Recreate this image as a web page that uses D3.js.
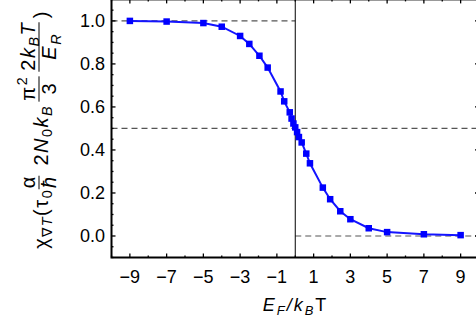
<!DOCTYPE html>
<html>
<head>
<meta charset="utf-8">
<script src="https://cdn.jsdelivr.net/npm/d3@7"></script>
<style>
	body { margin: 0; background: white; }
	text { font-family: 'Liberation Sans', Arial, sans-serif; fill: black; }
</style>
</head>
<body>
<svg id="chart" width="476" height="326"></svg>
<script>
// values
const energies = [-9, -7, -5, -4, -3, -2.5, -1.95, -1.5, -0.8, -0.6, -0.3, -0.2, -0.1, 0,
	0.1, 0.2, 0.35, 0.6, 0.8, 1.5, 1.9, 2.45, 3, 4, 5, 7, 9];
const chiValues = [1.0, 0.997, 0.99, 0.973, 0.93, 0.893, 0.838, 0.783, 0.672, 0.626, 0.575, 0.546, 0.523, 0.505,
	0.483, 0.46, 0.435, 0.383, 0.338, 0.225, 0.171, 0.115, 0.078, 0.036, 0.018, 0.008, 0.004];
const xTickValues = [-9, -7, -5, -3, -1, 1, 3, 5, 7, 9];
const xMinorTicks = [-10, -8, -6, -4, -2, 0, 2, 4, 6, 8, 10];
const yTickValues = [0, 0.2, 0.4, 0.6, 0.8, 1.0];
const yMinorTicks = d3.range(-0.1, 1.1001, 0.05).filter((v) => Math.abs(Math.round(v * 5) - v * 5) > 1e-6);
// reference lines: [y, xFrom, xTo]
const guideLines = [[1, -10, 0], [0.5, -10, 10], [0, 0, 10]];

const svg = d3.select('#chart');
const plotLeft = 111.5;
const plotRight = 479;
const plotTop = -0.6;
const plotBottom = 257.5;
const x = d3.scaleLinear().domain([-10, 10]).range([plotLeft, plotRight]);
const y = d3.scaleLinear().domain([-0.1, 1.1]).range([plotBottom, plotTop]);
const fmt = (v) => (v < 0 ? '\u2212' : '') + Math.abs(v);

// guides
guideLines.forEach(([v, a, b]) => {
	svg.append('line')
		.attr('x1', x(a)).attr('x2', x(b))
		.attr('y1', y(v)).attr('y2', y(v))
		.attr('stroke', '#555')
		.attr('stroke-width', 1.2)
		.attr('stroke-dasharray', '6,4');
});
svg.append('line')
	.attr('x1', x(0)).attr('x2', x(0))
	.attr('y1', plotTop).attr('y2', plotBottom)
	.attr('stroke', 'black')
	.attr('stroke-width', 1);

// ticks, all pointing inwards
const ticks = svg.append('g').attr('stroke', 'black').attr('stroke-width', 1.3);
xTickValues.concat(xMinorTicks).forEach((v) => {
	const len = xTickValues.includes(v) ? 4 : 2;
	ticks.append('line').attr('x1', x(v)).attr('x2', x(v)).attr('y1', plotBottom).attr('y2', plotBottom - len);
	ticks.append('line').attr('x1', x(v)).attr('x2', x(v)).attr('y1', plotTop).attr('y2', plotTop + len);
});
yTickValues.concat(yMinorTicks).forEach((v) => {
	const len = yTickValues.includes(v) ? 4 : 2;
	ticks.append('line').attr('y1', y(v)).attr('y2', y(v)).attr('x1', plotLeft).attr('x2', plotLeft + len);
	ticks.append('line').attr('y1', y(v)).attr('y2', y(v)).attr('x1', plotRight).attr('x2', plotRight - len);
});

// frame
svg.append('rect')
	.attr('x', plotLeft).attr('y', plotTop)
	.attr('width', plotRight - plotLeft).attr('height', plotBottom - plotTop)
	.attr('fill', 'none')
	.attr('stroke', 'black')
	.attr('stroke-width', 2);

// tick labels
svg.append('g').selectAll('text').data(xTickValues).enter().append('text')
	.attr('x', (d) => x(d))
	.attr('y', 283)
	.attr('text-anchor', 'middle')
	.attr('font-size', 18)
	.text(fmt);
svg.append('g').selectAll('text').data(yTickValues).enter().append('text')
	.attr('x', 105)
	.attr('y', (d) => y(d) + 6.5)
	.attr('text-anchor', 'end')
	.attr('font-size', 18)
	.text((d) => d.toFixed(1));

// curve
const line = d3.line().x((d, i) => x(energies[i])).y((d) => y(d));
svg.append('path')
	.attr('d', line(chiValues))
	.attr('fill', 'none')
	.attr('stroke', 'rgb(20,20,255)')
	.attr('stroke-width', 2);
svg.append('g').selectAll('rect').data(chiValues).enter().append('rect')
	.attr('x', (d, i) => x(energies[i]) - 3.25)
	.attr('y', (d) => y(d) - 3.25)
	.attr('width', 6.5)
	.attr('height', 6.5)
	.attr('fill', 'rgb(0,0,255)');

// small math typesetter: runs of [text, kind]
function run(g, x0, y0, spec, f, gap) {
	let cx = x0;
	spec.forEach(([t, kind], i) => {
		const small = kind.startsWith('sb') || kind === 'sp';
		const dy = kind.startsWith('sb') ? 0.22 * f : kind === 'sp' ? -0.42 * f : 0;
		const el = g.append('text')
			.attr('x', cx).attr('y', y0 + dy)
			.attr('font-size', small ? 0.72 * f : f)
			.attr('font-style', kind.endsWith('i') ? 'italic' : 'normal')
			.text(t);
		cx += el.node().getComputedTextLength() + (i < spec.length - 1 ? gap : 0);
	});
	return cx - x0;
}
function measure(g, spec, f, gap) {
	const tmp = g.append('g');
	const w = run(tmp, 0, 0, spec, f, gap);
	tmp.remove();
	return w;
}

const F = 20;
const GAP = 1.5;
const BAR = -0.45 * F;
function fraction(g, x0, num, den) {
	const wn = measure(g, num, F, GAP);
	const wd = measure(g, den, F, GAP);
	const w = Math.max(wn, wd) + 3;
	run(g, x0 + (w - wn) / 2, BAR - 4, num, F, GAP);
	run(g, x0 + (w - wd) / 2, BAR + 3 + 0.72 * F, den, F, GAP);
	g.append('line')
		.attr('x1', x0 + 0.5).attr('x2', x0 + w - 0.5)
		.attr('y1', BAR).attr('y2', BAR)
		.attr('stroke', 'black').attr('stroke-width', 1);
	return w;
}

// y axis title, each group centred where it sits in the reference (screen y)
const yTitle = svg.append('g').attr('transform', 'translate(48, 0) rotate(-90)');
const yGroups = [
	{ at: 219.5, spec: [['\u03c7', 'r'], ['\u2207', 'sb'], ['T', 'sbi'], ['(', 'r'], ['\u03c4', 'r'], ['0', 'sb']] },
	{ at: 182.5, num: [['\u03b1', 'r']], den: [['\u0127', 'i']] },
	{ at: 136, spec: [['2', 'r'], ['N', 'i'], ['0', 'sb'], ['k', 'i'], ['B', 'sbi']] },
	{ at: 89, num: [['\u03c0', 'r'], ['2', 'sp']], den: [['3', 'r']] },
	{ at: 47, num: [['2 ', 'r'], ['k', 'i'], ['B', 'sbi'], [' T', 'i']], den: [['E', 'i'], ['R', 'sbi']] },
	{ at: 15, spec: [[')', 'r']] },
];
yGroups.forEach((grp) => {
	if (grp.spec) {
		const w = measure(yTitle, grp.spec, F, GAP);
		run(yTitle, -grp.at - w / 2, 0, grp.spec, F, GAP);
	} else {
		const w = Math.max(measure(yTitle, grp.num, F, GAP), measure(yTitle, grp.den, F, GAP)) + 3;
		fraction(yTitle, -grp.at - w / 2, grp.num, grp.den);
	}
});

// x axis title
const xTitle = svg.append('g');
const xSpec = [['E', 'i'], ['F', 'sbi'], ['/', 'i'], ['k', 'i'], ['B', 'sbi'], ['T', 'r']];
const wx = measure(xTitle, xSpec, 18, 2);
run(xTitle, 294.5 - wx / 2, 311, xSpec, 18, 2);
</script>
</body>
</html>
